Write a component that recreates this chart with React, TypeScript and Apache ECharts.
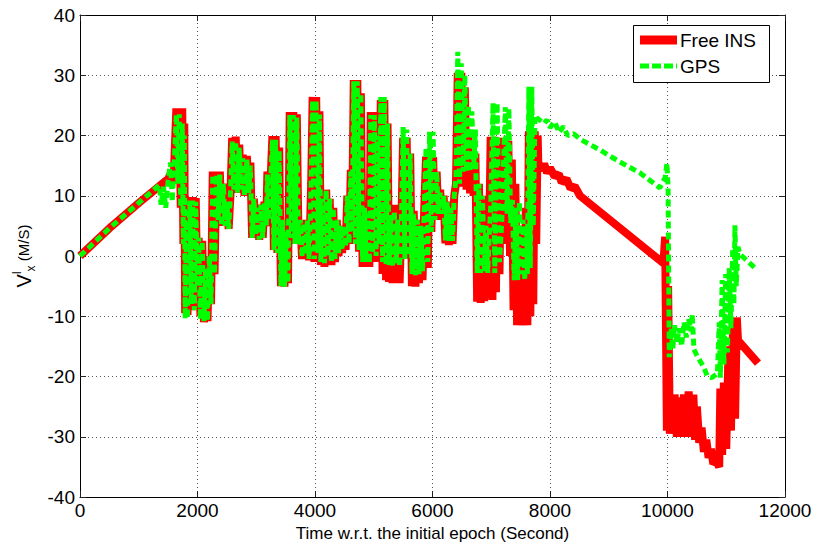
import React, { useEffect, useRef } from "react";
import * as echarts from "echarts";

// Axis ticks (seconds since the initial epoch, velocity in m/s)
const timeTicks = [0, 2000, 4000, 6000, 8000, 10000, 12000];
const velocityTicks = [-40, -30, -20, -10, 0, 10, 20, 30, 40];

const seriesNames = ["Free INS", "GPS"];

// Free INS velocity, [time (s), Vx (m/s)]
const insRamp: [number, number][] = [
  [0, 0], [500, 4.6], [1000, 8.8], [1500, 12.8], [1540, 13.6], [1570, 12.4], [1600, 14.2],
];
const insManoeuvresA: [number, number][] = [
  [1640, 24.5], [1665, 12], [1690, 24.5], [1715, 8], [1740, 24.5], [1760, 2], [1775, 22],
  [1790, -9.5], [1810, 5], [1830, -9.8], [1850, 4],
  [1870, 9.8], [1895, -8], [1920, 9.8], [1945, -9], [1970, 9.6],
  [1995, -5], [2020, 3], [2050, -10], [2080, 2.5], [2110, -11], [2140, -2], [2170, -10.8], [2200, 0], [2230, -8],
  [2260, 14], [2290, -3], [2320, 14], [2350, 6], [2380, 14], [2410, 5], [2440, 12],
  [2470, 5], [2500, 9], [2530, 4.5], [2560, 10],
  [2590, 19.6], [2620, 11], [2650, 19.8], [2680, 10.5], [2710, 18.5], [2740, 11], [2770, 16.8], [2800, 10], [2840, 16.6], [2870, 10.5], [2900, 15.5],
  [2930, 3], [2960, 9.5], [2990, 3.5], [3020, 8], [3050, 2.7], [3080, 8.5], [3110, 3], [3140, 9], [3170, 5], [3190, 14], [3215, 6],
  [3250, 14], [3275, 19.9], [3300, 1], [3330, 19.9], [3360, 0.5], [3390, 18],
  [3420, -5], [3450, 6], [3480, -5.1], [3510, 4], [3540, -4.5],
  [3570, 23.9], [3600, 3], [3630, 23.9], [3660, 2], [3690, 23.5], [3720, 2],
  [3750, 6], [3780, -0.5], [3810, 5.5], [3840, 0], [3870, 6], [3900, -0.7],
  [3935, 12], [3960, 26.4], [3990, -1], [4020, 26.4], [4050, 0], [4075, 24],
];
const insManoeuvresB: [number, number][] = [
  [4100, -1.5], [4130, 9.5], [4160, -1.8], [4190, 11], [4220, 0], [4250, 9.5], [4280, -1.5], [4310, 8], [4340, -1], [4370, 6], [4400, 0], [4430, 5], [4460, 0.5],
  [4490, 5], [4520, 1], [4550, 10], [4580, 2], [4610, 14.3], [4630, 4],
  [4660, 29.2], [4690, 2], [4720, 29.2], [4750, 0.7], [4780, 27],
  [4810, -1.8], [4840, 8], [4870, -1.5], [4900, 7], [4925, -1.8],
  [4950, 23.9], [4980, 0], [5010, 23.9], [5040, -1], [5060, 20],
  [5090, 2], [5120, 25.9], [5150, -3], [5180, 25.9], [5210, -4], [5235, 22],
  [5260, -4.3], [5290, 7], [5320, -4.5], [5350, 8.5], [5380, -4], [5410, 6], [5440, -4.5], [5470, 5],
  [5500, 19.6], [5530, -0.5], [5560, 19.6], [5590, 0], [5620, 17],
  [5650, -5], [5680, 7.5], [5710, -5.1], [5740, 6], [5770, -4.5], [5800, 5], [5830, -4],
  [5860, 8], [5890, 16.5], [5920, -2], [5950, 17], [5980, 4], [6010, 16.4], [6040, 6], [6070, 14],
  [6100, 6.5], [6130, 11], [6160, 6], [6190, 10], [6220, 2.1], [6250, 9], [6280, 1.8], [6310, 8], [6340, 2], [6370, 10], [6400, 12],
  [6430, 30.4], [6460, 11.5], [6490, 30.4], [6520, 12], [6550, 28], [6580, 11],
  [6610, 20.4], [6640, 10.4], [6670, 19], [6700, 10], [6730, 17],
  [6760, -7.6], [6790, 12], [6820, -7.8], [6850, 10], [6880, -7.5], [6910, 5], [6940, -7], [6965, 3],
  [6990, 19.8], [7020, -7.3], [7050, 19.8], [7080, -6], [7110, 19.5], [7140, -3], [7170, 19.6],
  [7200, 3.8], [7230, 19.5], [7260, 2], [7290, 19.1], [7320, 0],
  [7350, 16], [7380, -9], [7410, 12], [7440, -11.5],
  [7470, 5], [7500, -11.5], [7530, 0], [7560, -11.5], [7590, 8], [7615, -11.5],
  [7640, 20.7], [7665, -10], [7690, 20.7], [7715, -8], [7740, 20.7], [7765, 2], [7790, 20],
];
const insCoast: [number, number][] = [
  [7800, 15.6], [7850, 14.2], [7900, 15.3], [7950, 13.8], [8000, 14.6], [8080, 13.2], [8150, 13.6],
  [8200, 12.2], [8280, 12.8], [8350, 11.2], [8420, 11.6], [8510, 10.0], [9930, -1.2],
  [9960, 3.2], [9990, -29], [10010, -5], [10040, -29.5], [10060, -24], [10090, -29.5], [10120, -23],
  [10160, -30], [10200, -23.5], [10240, -30], [10280, -23], [10320, -30], [10360, -22.5], [10400, -30],
  [10440, -23], [10470, -30.5], [10500, -25], [10540, -31], [10580, -28.5], [10620, -32.5], [10660, -30.5],
  [10700, -33.5], [10740, -32], [10780, -34.5], [10830, -34], [10880, -35], [10900, -22], [10930, -33],
  [10960, -21], [11000, -32], [11040, -15], [11080, -29], [11120, -10.2], [11150, -27], [11180, -10.2],
  [11200, -14], [11540, -17.8],
];

// GPS velocity, [time (s), Vx (m/s)]
const gpsRamp: [number, number][] = [
  [0, 0], [500, 4.6], [1000, 8.8], [1350, 11.8], [1380, 8.5], [1420, 11.5], [1460, 8.0], [1500, 12.5],
  [1540, 15.5], [1570, 9], [1600, 14.5],
];
const gpsManoeuvresA: [number, number][] = [
  [1640, 23.5], [1665, 12], [1690, 23.5], [1715, 8], [1740, 22], [1760, 2], [1775, 20],
  [1790, -10.4], [1810, 5], [1830, -10.4], [1850, 4],
  [1870, 9.2], [1895, -8], [1920, 9.2], [1945, -9], [1970, 9],
  [1995, -5], [2020, 3], [2050, -10.5], [2080, 2.5], [2110, -10.8], [2140, -2], [2170, -10.8], [2200, 0], [2230, -8],
  [2260, 13.5], [2290, -3], [2320, 13.5], [2350, 6], [2380, 13.5], [2410, 5], [2440, 12],
  [2470, 5], [2500, 9], [2530, 4.5], [2560, 10],
  [2590, 19], [2620, 11], [2650, 19], [2680, 10.5], [2710, 18], [2740, 11], [2770, 16.2], [2800, 10], [2840, 16], [2870, 10.5], [2900, 15],
  [2930, 3], [2960, 9.5], [2990, 3.5], [3020, 8], [3050, 2.7], [3080, 8.5], [3110, 3], [3140, 9], [3170, 5], [3190, 13.5], [3215, 6],
  [3250, 13.5], [3275, 19.3], [3300, 1], [3330, 19.3], [3360, 0.5], [3390, 17.5],
  [3420, -5], [3450, 6], [3480, -5.1], [3510, 4], [3540, -4.5],
  [3570, 23.4], [3600, 3], [3630, 23.4], [3660, 2], [3690, 23], [3720, 2],
  [3750, 6], [3780, -0.2], [3810, 5.5], [3840, 0.2], [3870, 6], [3900, -0.5],
  [3935, 12], [3960, 25.8], [3990, -0.5], [4020, 25.8], [4050, 0.5], [4075, 23.5],
];
const gpsManoeuvresB: [number, number][] = [
  [4100, -1], [4130, 9.5], [4160, -1.2], [4190, 11], [4220, 0], [4250, 9.5], [4280, -1], [4310, 8], [4340, -0.5], [4370, 6], [4400, 0.5], [4430, 5], [4460, 1],
  [4490, 5], [4520, 1.5], [4550, 10], [4580, 2], [4610, 14], [4630, 4],
  [4660, 29], [4690, 2], [4720, 29], [4750, 1], [4780, 27],
  [4810, -1], [4840, 8], [4870, -1], [4900, 7], [4925, -1.2],
  [4950, 23.4], [4980, 0.5], [5010, 23.4], [5040, 0], [5060, 20],
  [5090, 2], [5120, 26.4], [5150, -1], [5180, 26.4], [5210, -1.5], [5235, 22],
  [5260, -1.5], [5290, 6.8], [5320, -1.8], [5350, 7.5], [5380, -1.2], [5410, 6], [5440, -1.8], [5470, 5],
  [5500, 21.4], [5530, -0.5], [5560, 21], [5590, 0], [5620, 17],
  [5650, -3], [5680, 7], [5710, -3.2], [5740, 6], [5770, -3], [5800, 5], [5830, -2.5],
  [5860, 8], [5890, 18], [5920, -1], [5950, 20.6], [5980, 4], [6010, 20.6], [6040, 6], [6070, 14],
  [6100, 7], [6130, 10.5], [6160, 7], [6190, 10], [6220, 2.6], [6250, 9], [6280, 2.5], [6310, 8], [6340, 2.5], [6370, 10], [6400, 13],
  [6430, 33.9], [6460, 12], [6490, 32], [6520, 14], [6550, 30], [6580, 14],
  [6610, 25], [6640, 14], [6670, 24], [6700, 14.5], [6730, 21],
  [6760, -2.8], [6790, 12], [6820, -2.8], [6850, 10], [6880, -2.5], [6910, 5], [6940, -2.8], [6965, 3],
  [6990, 8], [7030, 25.4], [7060, -2.8], [7100, 25.4], [7140, -1], [7180, 6],
  [7240, 24.7], [7270, 7], [7300, 24.5], [7330, 5.5],
  [7360, 9.3], [7390, -4], [7420, 8], [7450, -4], [7480, 9], [7510, -3], [7540, 6], [7570, -4], [7595, 5],
  [7615, -3], [7640, 28.1], [7665, -2], [7690, 28.1], [7715, 5], [7744, 23.4], [7778, 22.9],
];
const gpsCoast: [number, number][] = [
  [7900, 22.0], [7950, 22.6], [8000, 21.3], [8080, 22.3], [8150, 20.5], [8230, 21.5], [8300, 20.0],
  [8400, 20.3], [8510, 19.4], [8850, 17.6], [9190, 15.6], [9530, 13.8], [9870, 11.3], [9920, 12.3],
  [9960, 13], [9990, 15.4], [10010, 11.5], [10030, -16.8], [10060, -12], [10090, -15.5], [10120, -11.5],
  [10160, -14.5], [10200, -12], [10240, -15], [10280, -11], [10320, -13.5], [10360, -10.5], [10400, -12.5],
  [10420, -9.6], [10450, -15.5], [10500, -16.5], [10560, -17.5], [10620, -18.5], [10680, -20], [10750, -20.2],
  [10850, -19.5], [10880, -11], [10900, -20.2], [10930, -4], [10960, -18], [10990, -3], [11020, -16],
  [11050, -2], [11080, -12], [11110, 1.3], [11130, -8], [11148, 5.1], [11170, -5], [11200, 1.5],
  [11233, 0.3], [11490, -2],
];

const insTrack = [...insRamp, ...insManoeuvresA, ...insManoeuvresB, ...insCoast];
const gpsTrack = [...gpsRamp, ...gpsManoeuvresA, ...gpsManoeuvresB, ...gpsCoast];

const FONT = "Liberation Sans, Arial, Helvetica, sans-serif";
const INS_RED = "#ff0000";
const GPS_GREEN = "#00ff00";

export default function App() {
  const ref = useRef<HTMLDivElement>(null);

  useEffect(() => {
    if (!ref.current) return;
    const chart = echarts.init(ref.current, undefined, { renderer: "svg" });

    const xMin = timeTicks[0];
    const xMax = timeTicks[timeTicks.length - 1];
    const xStep = timeTicks[1] - timeTicks[0];
    const yMin = velocityTicks[0];
    const yMax = velocityTicks[velocityTicks.length - 1];
    const yStep = velocityTicks[1] - velocityTicks[0];

    const tickStyle = { show: true, inside: true, length: 6, lineStyle: { color: "#222", width: 1 } };
    const gridDots = { show: true, lineStyle: { color: "#555", width: 1, type: [1, 3] as number[] } };
    const frame = { show: true, onZero: false, lineStyle: { color: "#000", width: 1 } };
    const plain = (v: number) => String(v);

    // Boxed key in the upper right corner
    const keyLeft = 633;
    const keyTop = 25;
    const keyRows = [
      { name: seriesNames[0], y: 40, stroke: INS_RED, width: 9, dash: null as number[] | null },
      { name: seriesNames[1], y: 66, stroke: GPS_GREEN, width: 5, dash: [9, 3] },
    ];
    const keyGraphics: any[] = [
      {
        type: "rect",
        z: 100,
        shape: { x: keyLeft + 0.5, y: keyTop + 0.5, width: 136, height: 57 },
        style: { fill: "#fff", stroke: "#000", lineWidth: 1 },
      },
    ];
    keyRows.forEach((row) => {
      keyGraphics.push({
        type: "line",
        z: 101,
        shape: { x1: keyLeft + 7, y1: row.y, x2: keyLeft + 44, y2: row.y },
        style: { stroke: row.stroke, lineWidth: row.width, lineDash: row.dash || undefined, lineCap: "butt" },
      });
      keyGraphics.push({
        type: "text",
        z: 101,
        x: keyLeft + 47,
        y: row.y,
        style: {
          text: row.name,
          fontSize: 19,
          fontFamily: FONT,
          fill: "#000",
          align: "left",
          verticalAlign: "middle",
        },
      });
    });

    chart.setOption({
      animation: false,
      backgroundColor: "#ffffff",
      textStyle: { fontFamily: FONT },
      grid: { left: 80, right: 32, top: 15, bottom: 53, show: false },
      graphic: keyGraphics,
      xAxis: [
        {
          type: "value",
          min: xMin,
          max: xMax,
          interval: xStep,
          position: "bottom",
          axisLine: frame,
          axisTick: tickStyle,
          splitLine: gridDots,
          axisLabel: { fontSize: 19, color: "#000", margin: 4, fontFamily: FONT, formatter: plain },
          name: "Time w.r.t. the initial epoch (Second)",
          nameLocation: "middle",
          nameGap: 25,
          nameTextStyle: { fontSize: 17, color: "#000", fontFamily: FONT },
        },
        {
          type: "value",
          min: xMin,
          max: xMax,
          interval: xStep,
          position: "top",
          axisLine: frame,
          axisTick: tickStyle,
          splitLine: { show: false },
          axisLabel: { show: false },
        },
      ],
      yAxis: [
        {
          type: "value",
          min: yMin,
          max: yMax,
          interval: yStep,
          position: "left",
          axisLine: frame,
          axisTick: tickStyle,
          splitLine: gridDots,
          axisLabel: { fontSize: 19, color: "#000", margin: 5, fontFamily: FONT, formatter: plain },
          name: "{v|V}{sup|l}{sub|x}{u| (M/S)}",
          nameLocation: "middle",
          nameRotate: 90,
          nameGap: 40,
          nameTextStyle: {
            color: "#000",
            fontFamily: FONT,
            rich: {
              v: { fontSize: 20, lineHeight: 26, fontFamily: FONT, color: "#000" },
              sup: { fontSize: 12, lineHeight: 12, verticalAlign: "top", fontFamily: FONT, color: "#000" },
              sub: { fontSize: 12, lineHeight: 12, verticalAlign: "bottom", fontFamily: FONT, color: "#000" },
              u: { fontSize: 15, lineHeight: 26, fontFamily: FONT, color: "#000" },
            },
          },
        },
        {
          type: "value",
          min: yMin,
          max: yMax,
          interval: yStep,
          position: "right",
          axisLine: frame,
          axisTick: tickStyle,
          splitLine: { show: false },
          axisLabel: { show: false },
        },
      ],
      series: [
        {
          name: seriesNames[0],
          type: "line",
          xAxisIndex: 0,
          yAxisIndex: 0,
          data: insTrack,
          showSymbol: false,
          symbol: "none",
          color: INS_RED,
          lineStyle: { color: INS_RED, width: 8, join: "bevel", cap: "butt" },
        },
        {
          name: seriesNames[1],
          type: "line",
          xAxisIndex: 0,
          yAxisIndex: 0,
          data: gpsTrack,
          showSymbol: false,
          symbol: "none",
          color: GPS_GREEN,
          lineStyle: { color: GPS_GREEN, width: 5, type: [7, 4], join: "bevel", cap: "butt" },
        },
      ],
    });

    return () => chart.dispose();
  }, []);

  return (
    <div
      ref={ref}
      style={{ position: "absolute", left: 0, top: 0, width: 817, height: 550, background: "#fff" }}
    />
  );
}
